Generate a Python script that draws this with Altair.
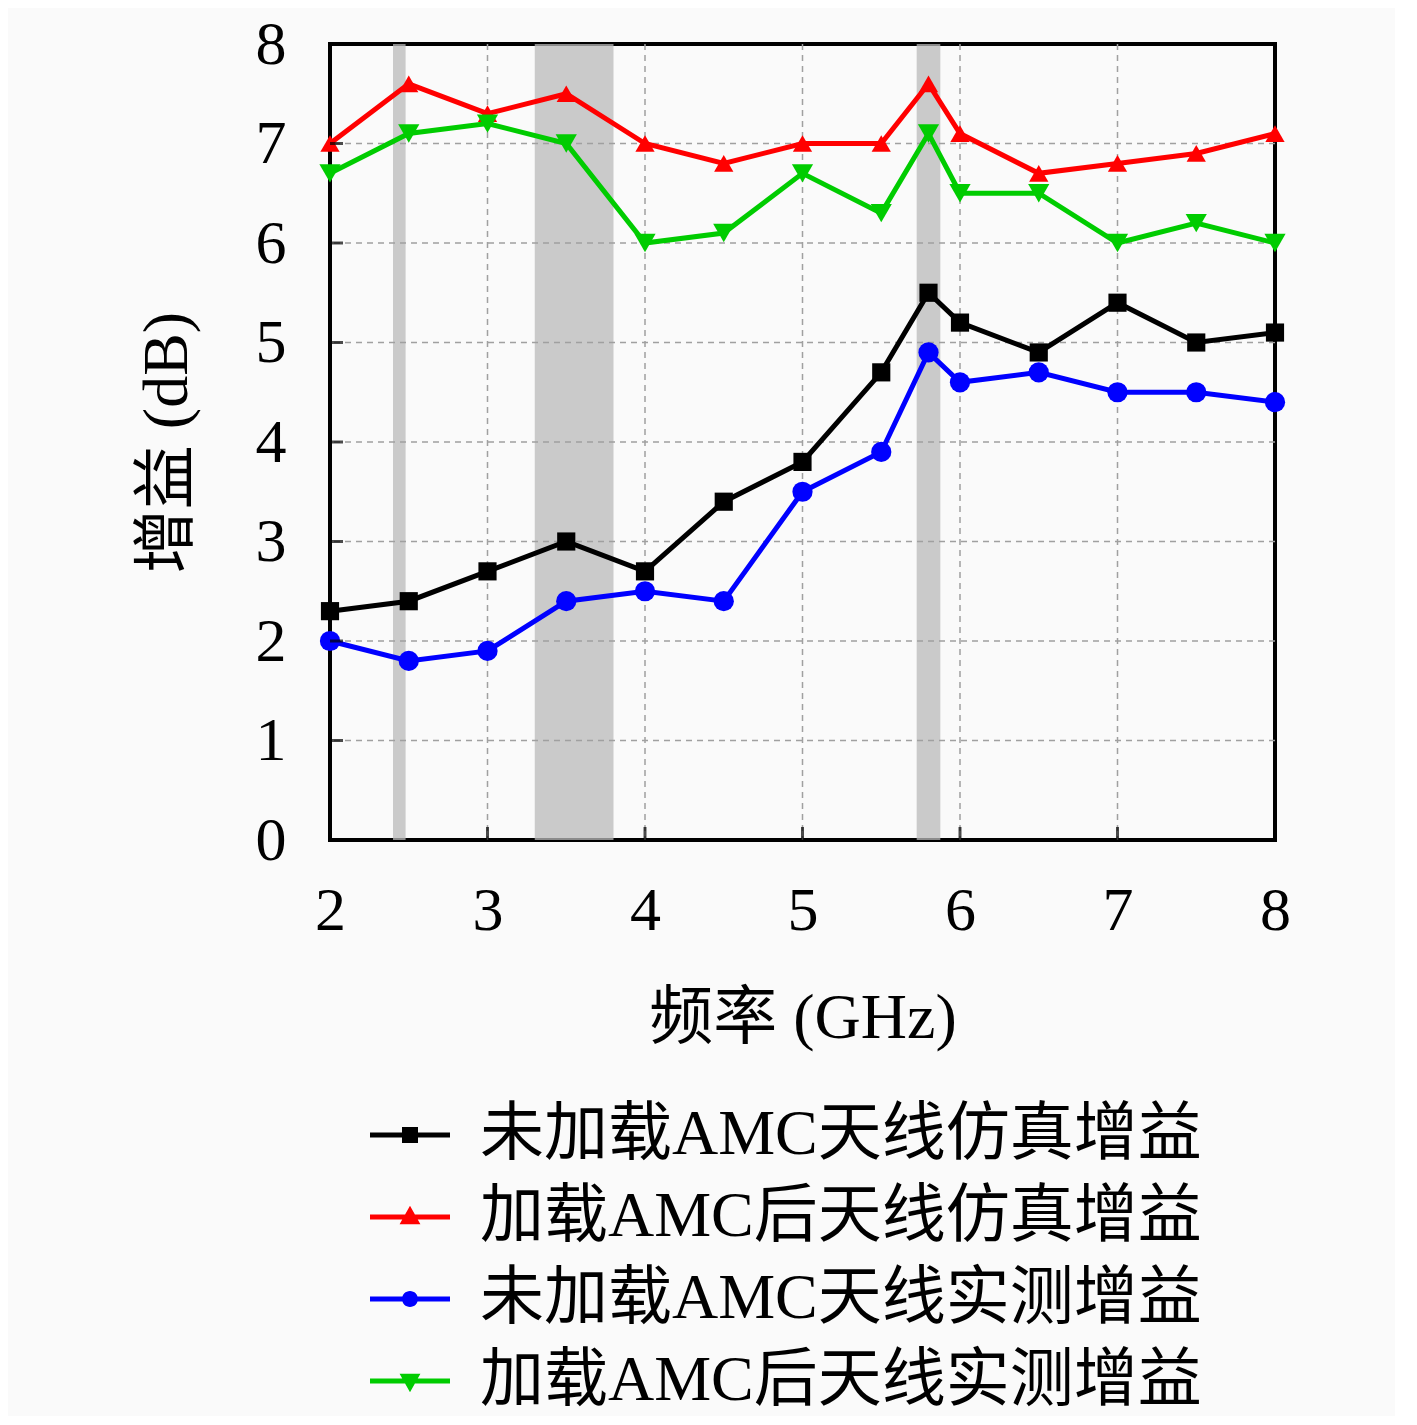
import altair as alt
import pandas as pd

# ---- data ----
freq = [2, 2.5, 3, 3.5, 4, 4.5, 5, 5.5, 5.8, 6, 6.5, 7, 7.5, 8]
sim_no_amc = [2.3, 2.4, 2.7, 3.0, 2.7, 3.4, 3.8, 4.7, 5.5, 5.2, 4.9, 5.4, 5.0, 5.1]
sim_amc = [7.0, 7.6, 7.3, 7.5, 7.0, 6.8, 7.0, 7.0, 7.6, 7.1, 6.7, 6.8, 6.9, 7.1]
meas_no_amc = [2.0, 1.8, 1.9, 2.4, 2.5, 2.4, 3.5, 3.9, 4.9, 4.6, 4.7, 4.5, 4.5, 4.4]
meas_amc = [6.7, 7.1, 7.2, 7.0, 6.0, 6.1, 6.7, 6.3, 7.1, 6.5, 6.5, 6.0, 6.2, 6.0]

series_names = [
    "未加载AMC天线仿真增益",
    "加载AMC后天线仿真增益",
    "未加载AMC天线实测增益",
    "加载AMC后天线实测增益",
]
series_values = [sim_no_amc, sim_amc, meas_no_amc, meas_amc]
series_colors = ["#000000", "#ff0000", "#0000ff", "#00cc00"]
series_shapes = ["square", "triangle-up", "circle", "triangle-down"]
series_sizes = [330, 450, 340, 450]
legend_paths = [
    "M-1,-0.065H1V0.065H-1Z M-0.2,-0.2H0.2V0.2H-0.2Z",
    "M-1,-0.065H1V0.065H-1Z M0,-0.28L0.26,0.18H-0.26Z",
    "M-1,-0.065H1V0.065H-1Z M0.2,0A0.2,0.2,0,1,1,-0.2,0A0.2,0.2,0,1,1,0.2,0Z",
    "M-1,-0.065H1V0.065H-1Z M0,0.28L-0.26,-0.18H0.26Z",
]

band_start = [2.4, 3.3, 5.725]
band_end = [2.48, 3.8, 5.875]

x_ticks = [2, 3, 4, 5, 6, 7, 8]
y_ticks = [0, 1, 2, 3, 4, 5, 6, 7, 8]
x_inner = [3, 4, 5, 6, 7]
y_inner = [1, 2, 3, 4, 5, 6, 7]

FONT = "Liberation Serif, DejaVu Serif, Noto Sans CJK SC"

rows = []
for name, vals in zip(series_names, series_values):
    for f, v in zip(freq, vals):
        rows.append({"freq": f, "gain": v, "series": name})
df = pd.DataFrame(rows)
bands = pd.DataFrame({"start": band_start, "end": band_end})
yt = pd.DataFrame({"v": y_inner})
xt = pd.DataFrame({"v": x_inner})

x_scale = alt.Scale(domain=[2, 8], nice=False, zero=False)
y_scale = alt.Scale(domain=[0, 8], nice=False)

x_axis = alt.Axis(
    title="频率 (GHz)", values=x_ticks, format="d", labelFontSize=62, titleFontSize=64,
    labelPadding=40, titlePadding=45, ticks=False, domain=False, grid=False,
    labelFlush=False, labelFont=FONT, titleFont=FONT,
    titleFontWeight="normal", labelColor="#000", titleColor="#000",
)
y_axis = alt.Axis(
    title="增益 (dB)", values=y_ticks, format="d", labelFontSize=62, titleFontSize=64,
    labelPadding=44, titlePadding=56, ticks=False, domain=False, grid=False,
    labelFlush=False, labelFont=FONT, titleFont=FONT,
    titleFontWeight="normal", labelColor="#000", titleColor="#000",
)

color_scale = alt.Scale(domain=series_names, range=series_colors)

band_layer = alt.Chart(bands).mark_rect(color="#b9b9b9", opacity=0.75).encode(
    x=alt.X("start:Q", scale=x_scale, axis=x_axis),
    x2="end:Q",
)

xgrid_layer = alt.Chart(xt).mark_rule(color="#a0a0a0", strokeWidth=1.5, strokeDash=[6, 5]).encode(
    x=alt.X("v:Q", scale=x_scale),
)
ygrid_layer = alt.Chart(yt).mark_rule(color="#a0a0a0", strokeWidth=1.5, strokeDash=[6, 5]).encode(
    y=alt.Y("v:Q", scale=y_scale),
)

line_layer = alt.Chart(df).mark_line(strokeWidth=5).encode(
    x=alt.X("freq:Q", scale=x_scale, axis=x_axis),
    y=alt.Y("gain:Q", scale=y_scale, axis=y_axis),
    color=alt.Color("series:N", scale=color_scale, legend=None),
    detail="series:N",
)

point_layer = alt.Chart(df).mark_point(filled=True, opacity=1).encode(
    x=alt.X("freq:Q", scale=x_scale),
    y=alt.Y("gain:Q", scale=y_scale),
    color=alt.Color("series:N", scale=color_scale, legend=None),
    shape=alt.Shape("series:N", scale=alt.Scale(domain=series_names, range=series_shapes), legend=None),
    size=alt.Size("series:N", scale=alt.Scale(domain=series_names, range=series_sizes), legend=None),
)

leg = alt.Legend(
    title=None, orient="none", legendX=40, legendY=1051, symbolSize=6400,
    symbolOpacity=1, symbolStrokeWidth=0, labelFontSize=64, labelFont=FONT,
    labelColor="#000", labelOffset=30, rowPadding=10, labelLimit=2000,
)
legend_layer = alt.Chart(df).mark_point(filled=True, opacity=0).encode(
    x=alt.X("freq:Q", scale=x_scale),
    y=alt.Y("gain:Q", scale=y_scale),
    color=alt.Color("series:N", scale=alt.Scale(domain=series_names, range=series_colors), legend=leg),
    shape=alt.Shape("series:N", scale=alt.Scale(domain=series_names, range=legend_paths), legend=leg),
)

ytick_layer = alt.Chart(yt).mark_tick(orient="horizontal", size=26, thickness=3, color="#000", clip=True).encode(
    y=alt.Y("v:Q", scale=y_scale),
    x=alt.datum(2),
)
xtick_layer = alt.Chart(xt).mark_tick(orient="vertical", size=26, thickness=3, color="#000", clip=True).encode(
    x=alt.X("v:Q", scale=x_scale),
    y=alt.datum(0),
)

chart = alt.layer(
    band_layer, xgrid_layer, ygrid_layer, line_layer, point_layer, legend_layer,
    ytick_layer, xtick_layer
).resolve_scale(
    color="independent", shape="independent"
).properties(
    width=945, height=796,
    autosize=alt.AutoSizeParams(type="none"),
    padding={"left": 322, "top": 36, "right": 120, "bottom": 576},
    background="#fafafa",
).configure_view(
    stroke="#000", strokeWidth=4
)

chart.save("out.html", embed_options={"renderer": "svg", "actions": False})
